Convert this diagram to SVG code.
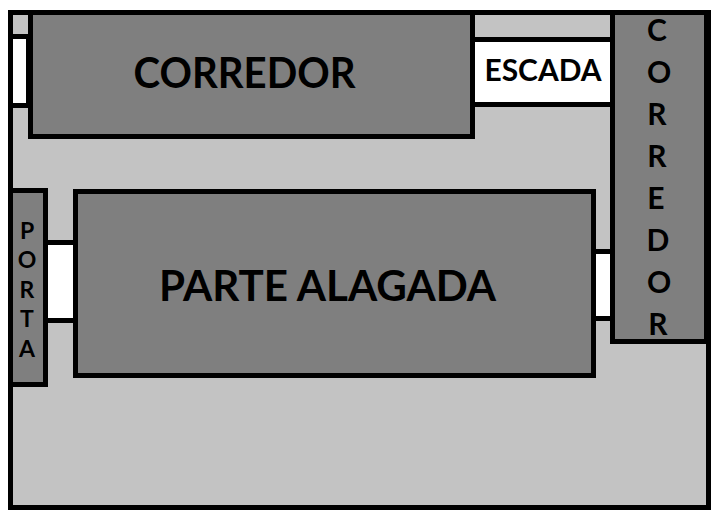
<svg xmlns="http://www.w3.org/2000/svg" width="720" height="520" viewBox="0 0 720 520">
<style>
.b{stroke:#000;stroke-width:5}
.d{fill:#7f7f7f}
.w{fill:#fff}
text{font-family:"Lato","Liberation Sans",sans-serif;font-weight:700;fill:#000;text-anchor:middle}
.v{font-size:23px}
.c{font-size:30px}
</style>
<rect width="720" height="520" fill="#fff"/>
<rect id="sala" x="10.5" y="12.5" width="698" height="495" fill="#c3c3c3" class="b"/>
<g id="porta-superior"><rect x="10.5" y="36.5" width="18" height="69" class="w b"/></g>
<g id="corredor-superior"><rect x="30.5" y="12.5" width="442" height="124" class="d b"/><text x="244.5" y="88" font-size="42" textLength="222" lengthAdjust="spacingAndGlyphs">CORREDOR</text></g>
<g id="escada"><rect x="472.5" y="39.5" width="140" height="65" class="w b"/><text x="543" y="81" font-size="31" textLength="117" lengthAdjust="spacingAndGlyphs">ESCADA</text></g>
<g id="corredor-direito"><rect x="612.5" y="12.5" width="94" height="329" class="d b"/>
<text class="c" x="657" y="41">C</text><text class="c" x="659" y="83">O</text><text class="c" x="657" y="125">R</text><text class="c" x="657" y="167">R</text><text class="c" x="656" y="209">E</text><text class="c" x="658" y="251">D</text><text class="c" x="659" y="293">O</text><text class="c" x="658" y="335">R</text></g>
<g id="porta-esquerda"><rect x="45.5" y="242.5" width="30" height="78" class="w b"/></g>
<g id="porta-direita"><rect x="593.5" y="251.5" width="19" height="67" class="w b"/></g>
<g id="porta"><rect x="10.5" y="190.5" width="35" height="194" class="d b"/>
<text class="v" x="27" y="239">P</text><text class="v" x="27" y="268">O</text><text class="v" x="27" y="298">R</text><text class="v" x="27" y="327">T</text><text class="v" x="27" y="357">A</text></g>
<g id="parte-alagada"><rect x="75.5" y="191.5" width="518" height="184" class="d b"/><text x="327.5" y="301" font-size="42" textLength="337" lengthAdjust="spacingAndGlyphs">PARTE ALAGADA</text></g>
</svg>
